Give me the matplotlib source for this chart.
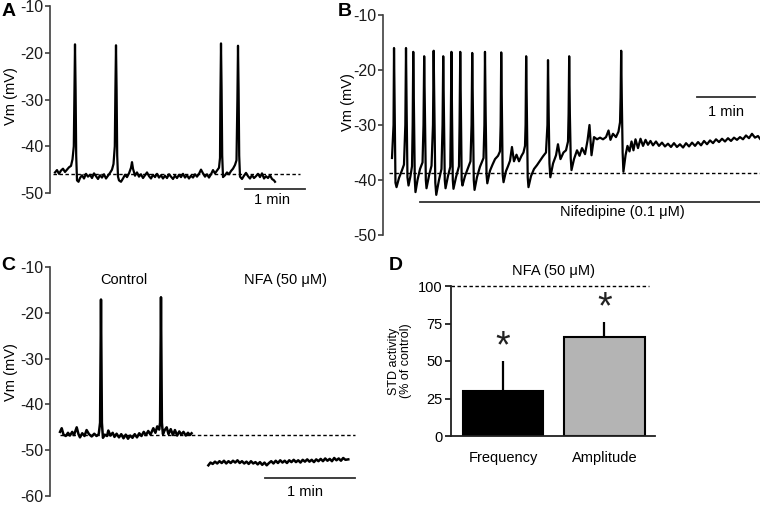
import matplotlib
matplotlib.use('Agg')
import matplotlib.pyplot as plt

plt.rcParams['font.family'] = ['Liberation Sans', 'DejaVu Sans']
plt.rcParams['axes.unicode_minus'] = False

# ---------------- data ----------------
# A: spontaneous activity, time (s) / Vm (mV)
a_time = [5, 7, 9, 11, 13, 15, 17, 19, 21, 22.5,
          23.8, 24.4, 25, 25.6, 26.2, 27, 28.5, 30, 32, 34,
          36, 38, 40, 42, 44, 46, 48, 50, 52, 54,
          56, 58, 60, 62, 63.5, 64.8, 65.4, 66, 66.6, 67.2,
          68, 69, 71, 73, 75, 77, 79, 81, 82, 83,
          85, 87, 89, 91, 93, 95, 97, 99, 101, 103,
          105, 107, 109, 111, 113, 115, 117, 119, 121, 123,
          125, 127, 129, 131, 133, 135, 137, 139, 141, 143,
          145, 147, 149, 151, 153, 155, 157, 159, 161, 163,
          165, 167, 169, 170, 170.4, 171, 171.6, 172.2, 173, 175,
          177, 179, 181, 183, 185, 186.5, 187.4, 188, 188.6, 189.2,
          190, 192, 194, 196, 198, 200, 202, 204, 206, 208,
          210, 212, 214, 216, 218, 220, 222, 224, 225]
a_vm = [-45.6, -45.1, -45.9, -45.2, -44.8, -45.5, -45.0, -44.5, -44.2, -42.8,
        -40.0, -28.0, -18.2, -28.0, -42.0, -47.3, -47.6, -46.8, -46.2, -46.9,
        -45.9, -46.5, -46.1, -46.8, -45.8, -46.4, -47.0, -46.2, -46.7, -46.0,
        -46.9, -46.3, -45.7, -45.0, -43.8, -40.0, -28.0, -18.4, -28.0, -42.0,
        -46.5, -47.3, -47.6, -46.9, -46.1, -46.6, -45.8, -44.6, -43.4, -44.8,
        -46.3, -45.6, -46.5, -46.0, -46.8, -46.2, -45.6, -46.4, -46.9, -46.1,
        -46.6, -45.9, -46.7, -46.2, -46.9, -46.3, -46.8, -46.0, -46.5, -47.0,
        -46.3, -46.8, -46.1, -46.6, -45.9, -46.7, -46.2, -46.9, -46.3, -46.7,
        -46.0, -46.5, -45.9, -45.0, -45.8, -46.5, -46.0, -46.7, -46.0, -45.1,
        -45.8, -45.2, -44.6, -42.5, -30.0, -18.0, -28.0, -42.0, -46.6, -46.2,
        -45.6, -46.0, -45.3, -44.8, -44.0, -43.0, -30.0, -18.5, -28.0, -42.0,
        -46.5, -47.0, -46.3, -45.7, -46.4, -46.9, -46.2, -46.8, -46.4, -45.9,
        -46.6, -45.8, -46.9, -46.4, -46.8, -46.2, -47.0, -47.3, -47.6]
a_rest = -46.0

# B: nifedipine
b_time = [9.3, 10.9, 11.4, 12.1, 12.9, 14.0, 16.6, 19.7, 21.7, 23.1,
          23.8, 24.5, 25.3, 26.4, 28.4, 30.0, 30.7, 31.3, 32.1, 32.9,
          33.6, 35.7, 38.3, 40.9, 41.9, 42.6, 43.4, 44.3, 45.0, 47.6,
          50.2, 51.7, 52.4, 53.2, 54.1, 55.1, 57.9, 60.5, 61.6, 62.3,
          63.1, 63.9, 64.7, 67.2, 69.6, 70.1, 70.8, 71.4, 72.2, 72.9,
          75.5, 78.6, 79.2, 79.9, 80.6, 81.4, 82.2, 84.8, 87.9, 90.5,
          91.6, 92.3, 93.1, 93.9, 94.7, 97.2, 100.3, 104.0, 104.9, 105.5,
          106.2, 107.1, 107.9, 110.7, 113.3, 115.9, 119.0, 121.0, 121.7, 122.3,
          123.0, 123.8, 124.7, 127.2, 129.3, 131.4, 133.4, 135.5, 138.1, 140.7,
          143.3, 145.3, 146.9, 147.5, 148.1, 148.9, 149.7, 150.5, 153.1, 156.2,
          159.3, 162.4, 165.5, 168.6, 170.1, 170.7, 171.4, 172.2, 173.1, 175.9,
          179.0, 181.0, 183.6, 186.7, 189.3, 191.4, 192.0, 192.6, 193.3, 194.2,
          195.0, 197.6, 200.7, 203.3, 205.9, 209.0, 211.6, 213.6, 215.7, 218.3,
          221.4, 224.5, 227.6, 230.7, 233.3, 235.3, 237.9, 241.0, 243.6, 245.2,
          245.8, 246.4, 247.1, 247.9, 248.7, 250.9, 252.9, 255.0, 257.1, 259.1,
          261.2, 263.8, 266.4, 269.0, 271.6, 274.1, 276.7, 279.3, 282.4, 285.5,
          288.6, 291.7, 294.8, 297.9, 301.0, 304.1, 307.2, 310.4, 313.5, 316.6,
          319.7, 322.8, 325.9, 329.0, 332.1, 335.2, 338.3, 341.4, 344.5, 347.6,
          350.7, 353.8, 356.9, 360.0, 363.1, 366.2, 369.3, 372.4, 375.5, 378.6,
          381.7, 384.8, 387.9, 390.0]
b_vm = [-36.0, -30, -16.0, -28, -40.5, -41.3, -39.6, -38.2, -37.2, -30,
        -16.0, -28, -39.5, -41.0, -39.3, -37.5, -30, -16.7, -28, -40,
        -42.2, -40.0, -38.0, -36.8, -30, -17.5, -28, -40, -41.5, -39.2,
        -37.4, -30, -16.5, -28, -40.5, -42.7, -40.0, -38.0, -30, -17.5,
        -28, -40, -41.5, -39.3, -37.6, -30, -16.7, -28, -40, -41.6,
        -39.5, -37.5, -30, -16.7, -28, -40, -41.0, -39.3, -37.8, -36.6,
        -30, -16.9, -28, -40, -41.8, -39.5, -37.6, -36.0, -30, -16.7,
        -28, -39, -40.6, -38.3, -37.2, -36.2, -35.6, -34.8, -30, -16.8,
        -28, -39, -40.4, -38.4, -37.5, -36.5, -34.0, -36.6, -35.4, -36.6,
        -35.6, -35.0, -33.8, -30, -17.5, -28, -39.5, -41.3, -39.3, -38.0,
        -37.3, -36.5, -35.7, -35.0, -30, -18.2, -28, -37, -39.5, -37.0,
        -35.5, -33.5, -36.2, -35.0, -34.6, -33.0, -28, -17.5, -28, -36,
        -38.2, -36.2, -34.6, -35.6, -34.2, -35.3, -32.8, -30.0, -35.5, -32.2,
        -32.6, -32.3, -32.6, -32.2, -31.0, -32.7, -31.6, -32.2, -31.2, -29.5,
        -25, -16.5, -26, -35, -38.5, -35.5, -33.8, -34.8, -33.0, -34.6,
        -32.6, -34.2, -32.5, -33.8, -32.7, -33.6, -32.9, -33.7, -33.0, -33.8,
        -33.2, -33.9, -33.4, -34.0, -33.3, -34.0, -33.5, -34.1, -33.3, -33.9,
        -33.2, -33.8, -33.1, -33.7, -32.9, -33.5, -32.8, -33.3, -32.6, -33.1,
        -32.5, -33.0, -32.4, -32.9, -32.3, -32.7, -32.2, -32.6, -31.9, -32.4,
        -31.6, -32.3, -32.0, -32.5]
b_rest = -38.7
b_drug = (38.3, 390.0)   # application period of nifedipine (s)

# C: control then NFA
c_ctrl_time = [6.7, 7.8, 9, 10.5, 12, 13.3, 14.8, 16, 17.8, 19,
               20, 21.5, 23, 24.4, 26, 27.8, 29.5, 31, 32.5, 33.4,
               34, 34.6, 35.3, 36.5, 38, 38.9, 40.3, 41.8, 43, 44.4,
               46, 47.5, 49, 50.5, 52, 53.5, 55, 56.5, 58, 59.5,
               61, 62.5, 64, 65.5, 67, 68.9, 70.3, 71.5, 72.8, 73.4,
               74, 74.6, 75.3, 76.5, 77.8, 79, 80.5, 82, 83.3, 84.8,
               86.2, 87.5, 89, 90.5, 92, 93.3, 94.4]
c_ctrl_vm = [-46.0, -45.2, -46.6, -46.9, -46.2, -46.8, -46.0, -46.7, -45.0, -46.5,
             -47.2, -46.3, -46.9, -45.6, -46.5, -47.0, -46.4, -46.9, -46.5, -44.0,
             -17.1, -44.0, -47.3, -46.6, -46.9, -45.7, -46.8, -46.2, -47.1, -46.4,
             -47.2, -46.5, -47.4, -46.6, -47.5, -46.8, -47.3, -46.5, -47.2, -46.3,
             -46.9, -46.0, -46.7, -45.8, -46.6, -45.2, -46.2, -44.8, -45.5, -44.0,
             -16.6, -44.0, -46.5, -45.6, -45.0, -46.5, -45.4, -46.7, -45.6, -46.8,
             -45.9, -46.6, -46.0, -46.8, -46.2, -46.7, -46.3]
c_nfa_time = [105.6, 107, 108.5, 110, 111.5, 113, 114.5, 116, 117.5, 119,
              120.5, 122, 123.5, 125, 126.5, 128, 129.5, 131, 132.5, 134,
              135.5, 137, 138.5, 140, 141.5, 143, 144.5, 146, 147.5, 149,
              150.5, 152, 153.5, 155, 156.5, 158, 159.5, 161, 162.5, 164,
              165.5, 167, 168.5, 170, 171.5, 173, 174.5, 176, 177.5, 179,
              180.5, 182, 183.5, 185, 186.5, 188, 189.5, 191, 192.5, 194,
              195.5, 197, 198.9]
c_nfa_vm = [-53.3, -52.7, -53.0, -52.5, -52.9, -52.4, -52.8, -52.3, -52.9, -52.4,
            -52.8, -52.3, -52.7, -52.2, -52.8, -52.4, -52.9, -52.5, -53.0, -52.4,
            -52.9, -52.6, -53.1, -52.6, -53.2, -52.7, -53.3, -52.8, -52.4, -52.9,
            -52.3, -52.8, -52.2, -52.7, -52.3, -52.8, -52.2, -52.6, -52.1, -52.6,
            -52.2, -52.7, -52.1, -52.5, -52.0, -52.5, -52.1, -52.6, -52.0, -52.4,
            -51.9, -52.4, -51.8, -52.3, -51.9, -52.4, -51.7, -52.2, -51.8, -52.3,
            -51.7, -52.1, -52.0]
c_rest = -46.6

# D: STD activity after NFA (% of control)
d_labels = ['Frequency', 'Amplitude']
d_values = [30.3, 65.8]
d_err = [19.4, 9.9]
d_colors = ['black', '#b4b4b4']

# ---------------- figure ----------------
W, H = 760, 505
fig = plt.figure(figsize=(W / 100, H / 100), dpi=100)
axis_col = '#404040'
trace_lw = 1.6
dash = (0, (2.5, 1.8))


def rect(left, top, right, bottom):
    return [left / W, 1 - bottom / H, (right - left) / W, (bottom - top) / H]


def ftext(x, y, s, **kw):
    fig.text(x / W, 1 - y / H, s, **kw)


def trace_axes(r, xlim, ylim, yticks):
    ax = fig.add_axes(r)
    ax.set_xlim(*xlim)
    ax.set_ylim(*ylim)
    ax.patch.set_alpha(0)
    for s in ['top', 'right', 'bottom']:
        ax.spines[s].set_visible(False)
    ax.spines['left'].set_color(axis_col)
    ax.spines['left'].set_linewidth(1.2)
    ax.set_xticks([])
    ax.set_yticks(yticks)
    ax.tick_params(axis='y', length=3.5, width=1.2, color=axis_col,
                   labelsize=11.5, pad=1.5, labelcolor='#1a1a1a')
    return ax


def scalebar(ax, t0, v, label_v, label_t=None):
    ax.plot([t0, t0 + 60], [v, v], color='#303030', lw=1.3, clip_on=False)
    if label_t is None:
        label_t = t0 + 30
    ax.text(label_t, label_v, '1 min', ha='center', va='center', fontsize=10.5)


# panel A
axA = trace_axes(rect(50, 6, 310, 193), (0, 260), (-50, -10), [-10, -20, -30, -40, -50])
axA.plot([3, 250], [a_rest, a_rest], color='black', lw=1, ls=dash)
axA.plot(a_time, a_vm, color='black', lw=trace_lw, clip_on=False)
scalebar(axA, 195, -49.1, -51.6, 222)
ftext(9, 11, 'A', fontsize=14, fontweight='bold', ha='center', va='center')
ftext(11, 96, 'Vm (mV)', fontsize=10.5, rotation=90, ha='center', va='center')

# panel B
axB = trace_axes(rect(383, 15, 760, 235), (0, 390), (-50, -10), [-10, -20, -30, -40, -50])
axB.plot([6.2, 390], [b_rest, b_rest], color='black', lw=1, ls=dash, clip_on=False)
axB.plot(b_time, b_vm, color='black', lw=trace_lw, clip_on=False)
axB.plot(b_drug, [-44.0, -44.0], color='#303030', lw=1.3, clip_on=False)
axB.text(248, -45.8, 'Nifedipine (0.1 μM)', ha='center', va='center', fontsize=10.5)
scalebar(axB, 325, -24.9, -27.6)
ftext(345, 12, 'B', fontsize=14, fontweight='bold', ha='center', va='center')
ftext(348, 102, 'Vm (mV)', fontsize=10.5, rotation=90, ha='center', va='center')

# panel C
axC = trace_axes(rect(50, 267, 360, 496), (0, 206.7), (-60, -10),
                 [-10, -20, -30, -40, -50, -60])
axC.plot([6.7, 203.3], [c_rest, c_rest], color='black', lw=1, ls=dash, clip_on=False)
axC.plot(c_ctrl_time, c_ctrl_vm, color='black', lw=1.8)
axC.plot(c_nfa_time, c_nfa_vm, color='black', lw=1.8)
axC.text(49.5, -12.8, 'Control', ha='center', va='center', fontsize=10.5)
axC.text(157, -12.8, 'NFA (50 μM)', ha='center', va='center', fontsize=10.5)
scalebar(axC, 143.3, -56.1, -59.2, 170)
ftext(8, 266, 'C', fontsize=14, fontweight='bold', ha='center', va='center')
ftext(11, 372, 'Vm (mV)', fontsize=10.5, rotation=90, ha='center', va='center')

# panel D
axD = fig.add_axes(rect(451, 286, 655, 436))
axD.set_xlim(-0.512, 1.498)
axD.set_ylim(0, 100)
axD.patch.set_alpha(0)
for s in ['top', 'right']:
    axD.spines[s].set_visible(False)
for s in ['left', 'bottom']:
    axD.spines[s].set_color('#202020')
    axD.spines[s].set_linewidth(1.3)
xpos = list(range(len(d_labels)))
axD.errorbar(xpos, d_values, yerr=[[0] * len(d_err), d_err], fmt='none',
             ecolor='black', elinewidth=1.6, capsize=0, zorder=1)
axD.bar(xpos, d_values, width=0.79, color=d_colors, edgecolor='black',
        linewidth=1.5, zorder=2)
axD.axhline(100, xmax=0.97, color='black', lw=1, ls=dash, clip_on=False)
for x, v, e in zip(xpos, d_values, d_err):
    axD.text(x, v + e + 2.5, '*', ha='center', va='baseline', fontsize=27,
             color='#222222')
axD.set_yticks([0, 25, 50, 75, 100])
axD.set_xticks(xpos)
axD.set_xticklabels(d_labels)
axD.tick_params(axis='y', length=4, width=1.3, color='#202020', labelsize=10.5, pad=2)
axD.tick_params(axis='x', length=0, labelsize=10.5, pad=11)
axD.set_ylabel('STD activity\n(% of control)', fontsize=9, linespacing=1.0, labelpad=4)
axD.set_title('NFA (50 μM)', fontsize=10.5, pad=8)
ftext(396, 265, 'D', fontsize=14, fontweight='bold', ha='center', va='center')

fig.savefig('out.png', dpi=100)
